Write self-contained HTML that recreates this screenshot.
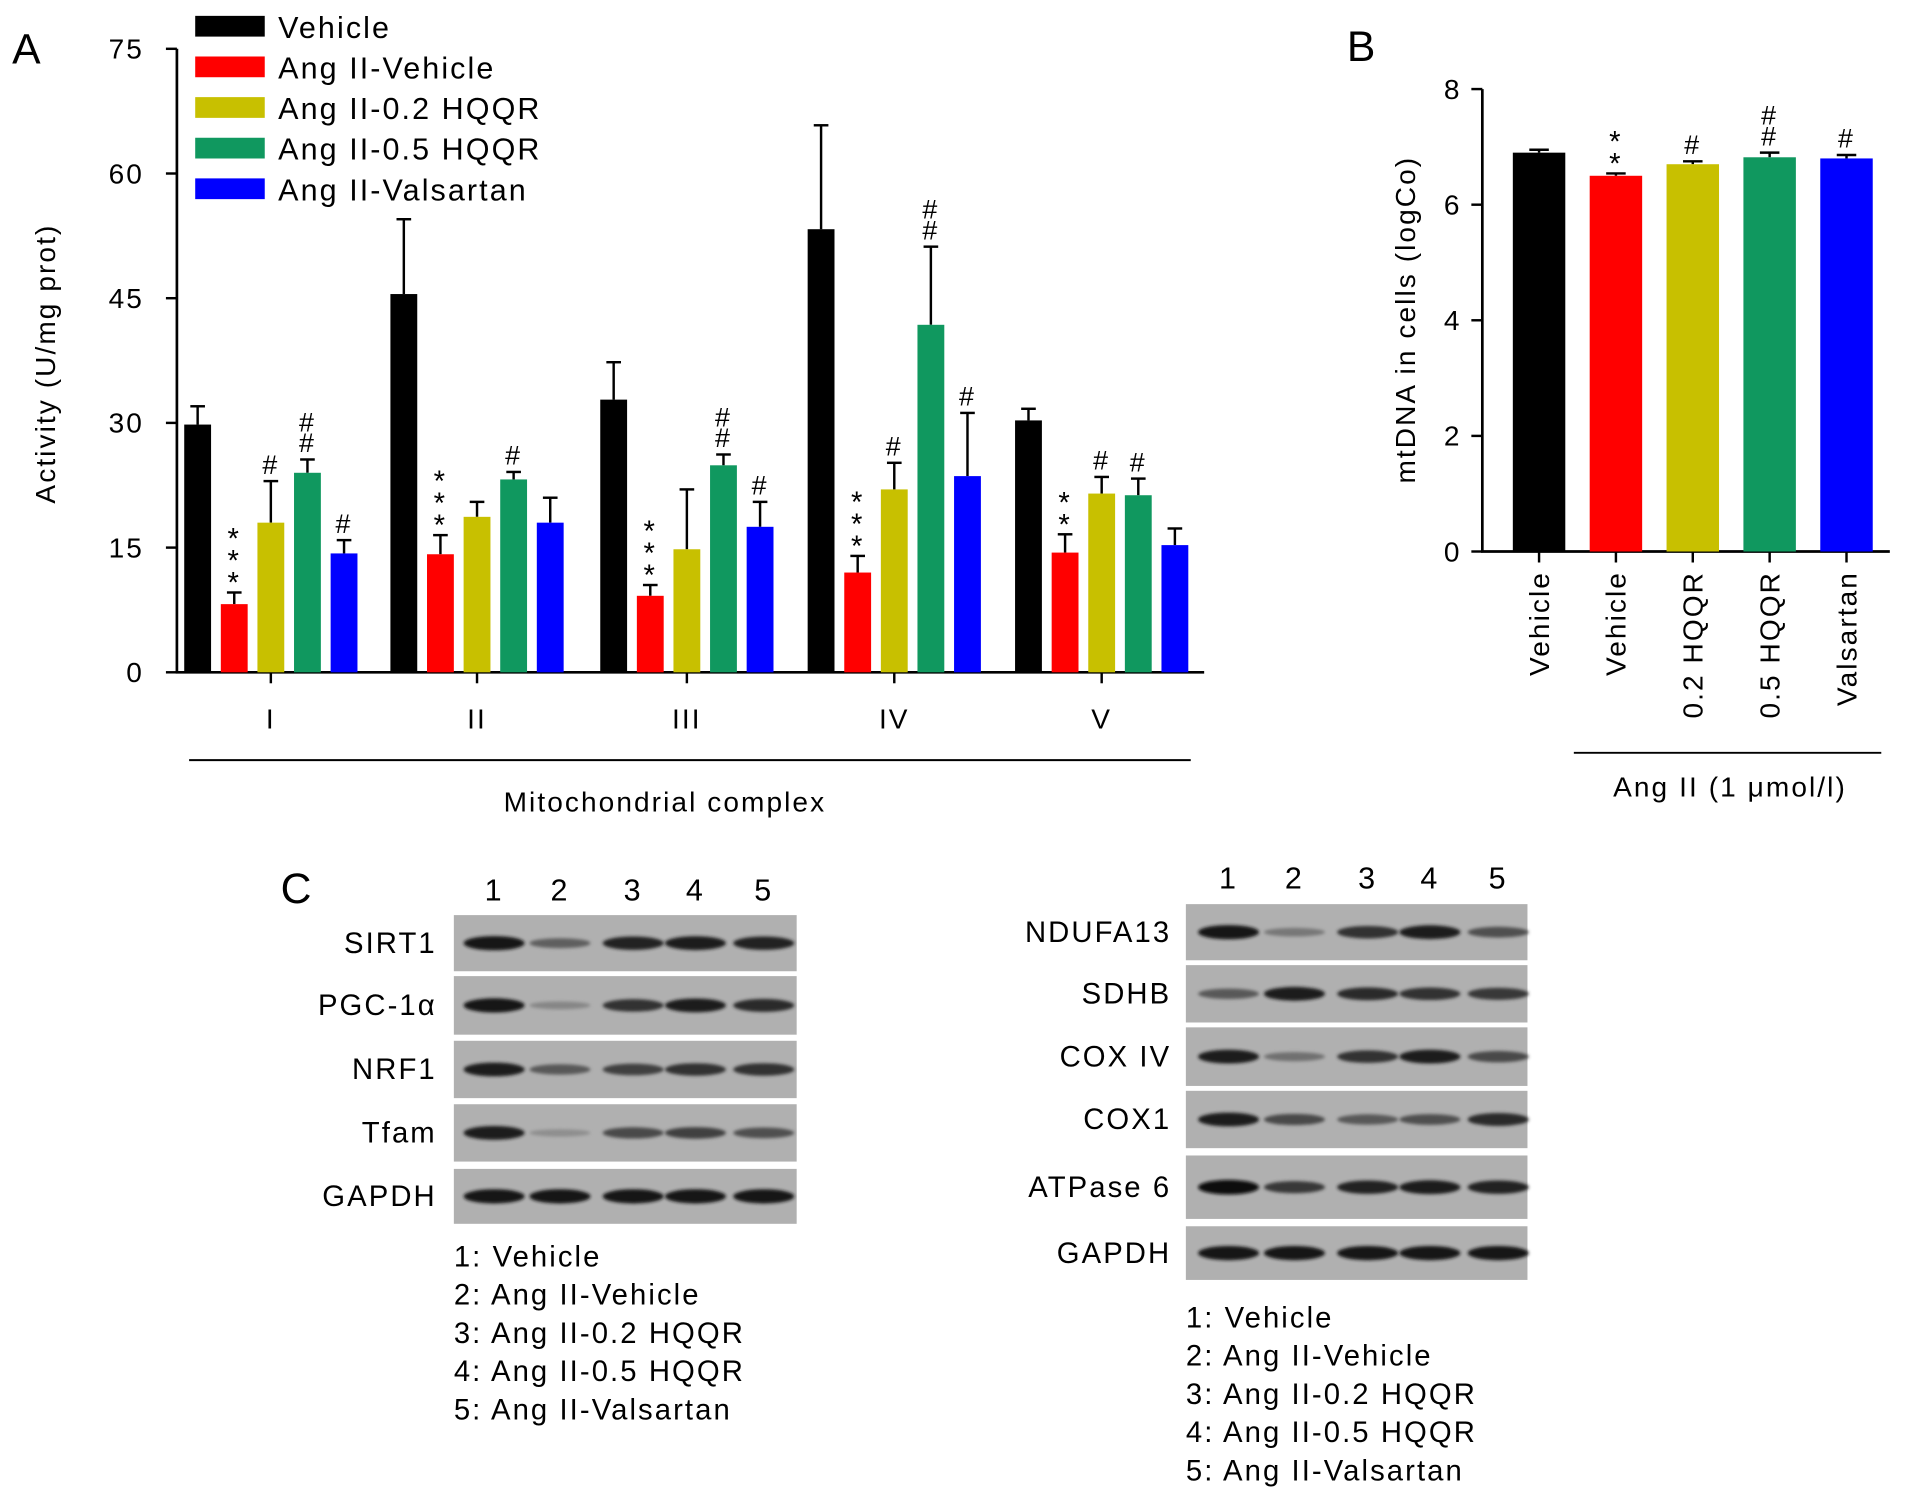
<!DOCTYPE html>
<html><head><meta charset="utf-8"><style>
html,body{margin:0;padding:0;background:#fff;}
svg{display:block;font-family:"Liberation Sans",Arial,sans-serif;}
text{letter-spacing:1.7px;}
</style></head><body>
<svg id="fig" width="1913" height="1502" viewBox="0 0 1568 1231" preserveAspectRatio="none" xmlns="http://www.w3.org/2000/svg">
<defs><filter id="blur" x="-20%" y="-100%" width="140%" height="300%"><feGaussianBlur stdDeviation="1.4"/></filter></defs>
<g id="panelA"></g>
<g id="panelB"></g>
<g id="panelC"></g>
</svg>
<script>
const seriesNames=["Vehicle","Ang II-Vehicle","Ang II-0.2 HQQR","Ang II-0.5 HQQR","Ang II-Valsartan"];
const colors=["#000000","#ff0000","#c8c000","#10985f","#0000ff"];
const complexes=["I","II","III","IV","V"];
const vehicleVals=[29.8,45.5,32.8,53.3,30.3];
const angVehVals=[8.2,14.2,9.2,12.0,14.4];
const hqqr02Vals=[18.0,18.7,14.8,22.0,21.5];
const hqqr05Vals=[24.0,23.2,24.9,41.8,21.3];
const valsVals=[14.3,18.0,17.5,23.6,15.3];
const vehicleErr=[2.2,9.0,4.5,12.5,1.4];
const angVehErr=[1.4,2.3,1.3,2.0,2.2];
const hqqr02Err=[5.0,1.8,7.2,3.2,2.0];
const hqqr05Err=[1.6,0.9,1.3,9.4,2.0];
const valsErr=[1.6,3.0,3.0,7.6,2.0];
const annotA=[["","***","#","##","#"],["","***","","#",""],["","***","","##","#"],["","***","#","##","#"],["","**","#","#",""]];
const yTicksA=[0,15,30,45,60,75];
const bLabels=["Vehicle","Vehicle","0.2 HQQR","0.5 HQQR","Valsartan"];
const bVals=[6.9,6.5,6.7,6.82,6.8];
const bErr=[0.05,0.04,0.05,0.08,0.06];
const bAnnot=["","**","#","##","#"];
const yTicksB=[0,2,4,6,8];

const NS="http://www.w3.org/2000/svg";
function mk(p,t,a,txt){const e=document.createElementNS(NS,t);for(const k in a)e.setAttribute(k,a[k]);if(txt!==undefined)e.textContent=txt;p.appendChild(e);return e;}

// Panel A
const A=document.getElementById('panelA');
const yA=v=>551-v*(511/75);
const xA=(g,s)=>[222,391,563,733,903][g]+(s-2)*30;
const vals=[vehicleVals,angVehVals,hqqr02Vals,hqqr05Vals,valsVals];
const errs=[vehicleErr,angVehErr,hqqr02Err,hqqr05Err,valsErr];
let t=mk(A,'text',{x:10,y:52,'font-size':35},'A');

t=mk(A,'line',{x1:145,y1:yA(75),x2:145,y2:551,stroke:'#000','stroke-width':2.2});

t=mk(A,'line',{x1:144,y1:551,x2:987,y2:551,stroke:'#000','stroke-width':2.2});

yTicksA.forEach(v=>{
 mk(A,'line',{x1:136,y1:yA(v),x2:145,y2:yA(v),stroke:'#000','stroke-width':2});
 t=mk(A,'text',{x:118,y:yA(v)+8,'font-size':23,'text-anchor':'end'},String(v));
 
});
t=mk(A,'text',{x:0,y:0,'font-size':23,'text-anchor':'middle',transform:'translate(45,298) rotate(-90)'},'Activity (U/mg prot)');

complexes.forEach((c,g)=>{
 mk(A,'line',{x1:xA(g,2),y1:551,x2:xA(g,2),y2:560,stroke:'#000','stroke-width':2});
 t=mk(A,'text',{x:xA(g,2),y:597,'font-size':23,'text-anchor':'middle'},c);
 
 for(let s=0;s<5;s++){
  const v=vals[s][g],e=errs[s][g],cx=xA(g,s);
  mk(A,'line',{x1:cx,y1:yA(v),x2:cx,y2:yA(v+e),stroke:'#000','stroke-width':2});
  mk(A,'line',{x1:cx-6,y1:yA(v+e),x2:cx+6,y2:yA(v+e),stroke:'#000','stroke-width':2});
  t=mk(A,'rect',{x:cx-11,y:yA(v),width:22,height:551-yA(v),fill:colors[s]});
  
  const an=annotA[g][s];
  if(an){
   const top=yA(v+e)-6;
   const ch=an[0],n=an.length;
   for(let k=0;k<n;k++){
    if(ch==='*'){t=mk(A,'text',{x:cx,y:top-k*18+6,'font-size':24,'text-anchor':'middle','letter-spacing':0},'*');}
    else{t=mk(A,'text',{x:cx,y:top-k*17,'font-size':22,'text-anchor':'middle','letter-spacing':0},'#');}
    
   }
  }
 }
});
mk(A,'line',{x1:155,y1:623,x2:976,y2:623,stroke:'#000','stroke-width':1.6});
t=mk(A,'text',{x:545,y:665,'font-size':23,'text-anchor':'middle'},'Mitochondrial complex');

seriesNames.forEach((n,i)=>{
 const y=21+i*33.3;
 const g=mk(A,'g',{});
 
 mk(g,'rect',{x:160,y:y-8,width:57,height:17,fill:colors[i]});
 mk(g,'text',{x:228,y:y+10,'font-size':25,'letter-spacing':1.2},n);
});

// Panel B
const B=document.getElementById('panelB');
const yB=v=>452-v*(379/8);
const xB=i=>1261.5+i*63;
t=mk(B,'text',{x:1104,y:50,'font-size':35},'B');

t=mk(B,'line',{x1:1215,y1:yB(8),x2:1215,y2:452,stroke:'#000','stroke-width':2.2});

t=mk(B,'line',{x1:1214,y1:452,x2:1549,y2:452,stroke:'#000','stroke-width':2.2});

yTicksB.forEach(v=>{
 mk(B,'line',{x1:1206,y1:yB(v),x2:1215,y2:yB(v),stroke:'#000','stroke-width':2});
 t=mk(B,'text',{x:1198,y:yB(v)+8,'font-size':23,'text-anchor':'end'},String(v));
 
});
t=mk(B,'text',{x:0,y:0,'font-size':23,'text-anchor':'middle',transform:'translate(1160,262) rotate(-90)'},'mtDNA in cells (logCo)');

bVals.forEach((v,i)=>{
 const cx=xB(i),e=bErr[i];
 mk(B,'line',{x1:cx,y1:yB(v),x2:cx,y2:yB(v+e),stroke:'#000','stroke-width':2});
 mk(B,'line',{x1:cx-8,y1:yB(v+e),x2:cx+8,y2:yB(v+e),stroke:'#000','stroke-width':2});
 t=mk(B,'rect',{x:cx-21.5,y:yB(v),width:43,height:452-yB(v),fill:colors[i]});
 
 mk(B,'line',{x1:cx,y1:452,x2:cx,y2:461,stroke:'#000','stroke-width':2});
 t=mk(B,'text',{x:0,y:0,'font-size':23,'text-anchor':'end',transform:'translate('+(cx+8)+',468) rotate(-90)'},bLabels[i]);
 
 const an=bAnnot[i];
 if(an){const top=yB(v+e)-6;for(let k=0;k<an.length;k++){
  if(an[0]==='*')t=mk(B,'text',{x:cx,y:top-k*18+6,'font-size':24,'text-anchor':'middle','letter-spacing':0},'*');
  else t=mk(B,'text',{x:cx,y:top-k*17,'font-size':22,'text-anchor':'middle','letter-spacing':0},'#');
  }}
});
mk(B,'line',{x1:1290,y1:617,x2:1542,y2:617,stroke:'#000','stroke-width':1.6});
t=mk(B,'text',{x:1418,y:653,'font-size':23,'text-anchor':'middle'},'Ang II (1 μmol/l)');


// Panel C
const C=document.getElementById('panelC');
t=mk(C,'text',{x:230,y:740,'font-size':35},'C');

const leftRows=[["SIRT1",750,796,[.95,.45,.85,.9,.85]],["PGC-1α",800,848,[.95,.2,.75,.9,.8]],["NRF1",853,900,[.9,.5,.65,.75,.75]],["Tfam",905,952,[.9,.15,.6,.65,.55]],["GAPDH",958,1003,[.95,.95,.95,.95,.95]]];
const rightRows=[["NDUFA13",741,787,[.95,.3,.75,.9,.55]],["SDHB",791,838,[.5,.9,.8,.75,.7]],["COX IV",842,890,[.9,.35,.75,.9,.6]],["COX1",894,941,[.9,.6,.5,.55,.8]],["ATPase 6",947,999,[1,.7,.85,.9,.85]],["GAPDH",1005,1049,[.95,.95,.95,.95,.95]]];
const legendC=["1: Vehicle","2: Ang II-Vehicle","3: Ang II-0.2 HQQR","4: Ang II-0.5 HQQR","5: Ang II-Valsartan"];
function blot(x0,x1,rows,lanes,laneY,labelX,legY,name){
 const g=mk(C,'g',{});
 lanes.forEach((lx,i)=>{mk(g,'text',{x:lx,y:laneY,'font-size':25,'text-anchor':'middle','letter-spacing':0},String(i+1));});
 rows.forEach(r=>{
  const [lab,y0,y1,ints]=r;
  mk(g,'rect',{x:x0,y:y0,width:x1-x0,height:y1-y0,fill:'#b0b0b0'});
  const cy=(y0+y1)/2;
  ints.forEach((v,i)=>{const c=Math.round(165-155*v);
   mk(g,'ellipse',{cx:lanes[i],cy:cy,rx:25,ry:2.5+3.5*v,fill:'rgb('+c+','+c+','+c+')',filter:'url(#blur)'});});
  const tl=mk(g,'text',{x:labelX,y:cy+8,'font-size':24,'text-anchor':'end'},lab);
  
 });
 legendC.forEach((s,i)=>{mk(g,'text',{x:x0,y:legY+i*31.3,'font-size':24},s);});
}
blot(372,653,leftRows,[405,459,519,570,626],738,358,1038,'blot-left');
blot(972,1252,rightRows,[1007,1061,1121,1172,1228],728,960,1088,'blot-right');
</script>
</body></html>
